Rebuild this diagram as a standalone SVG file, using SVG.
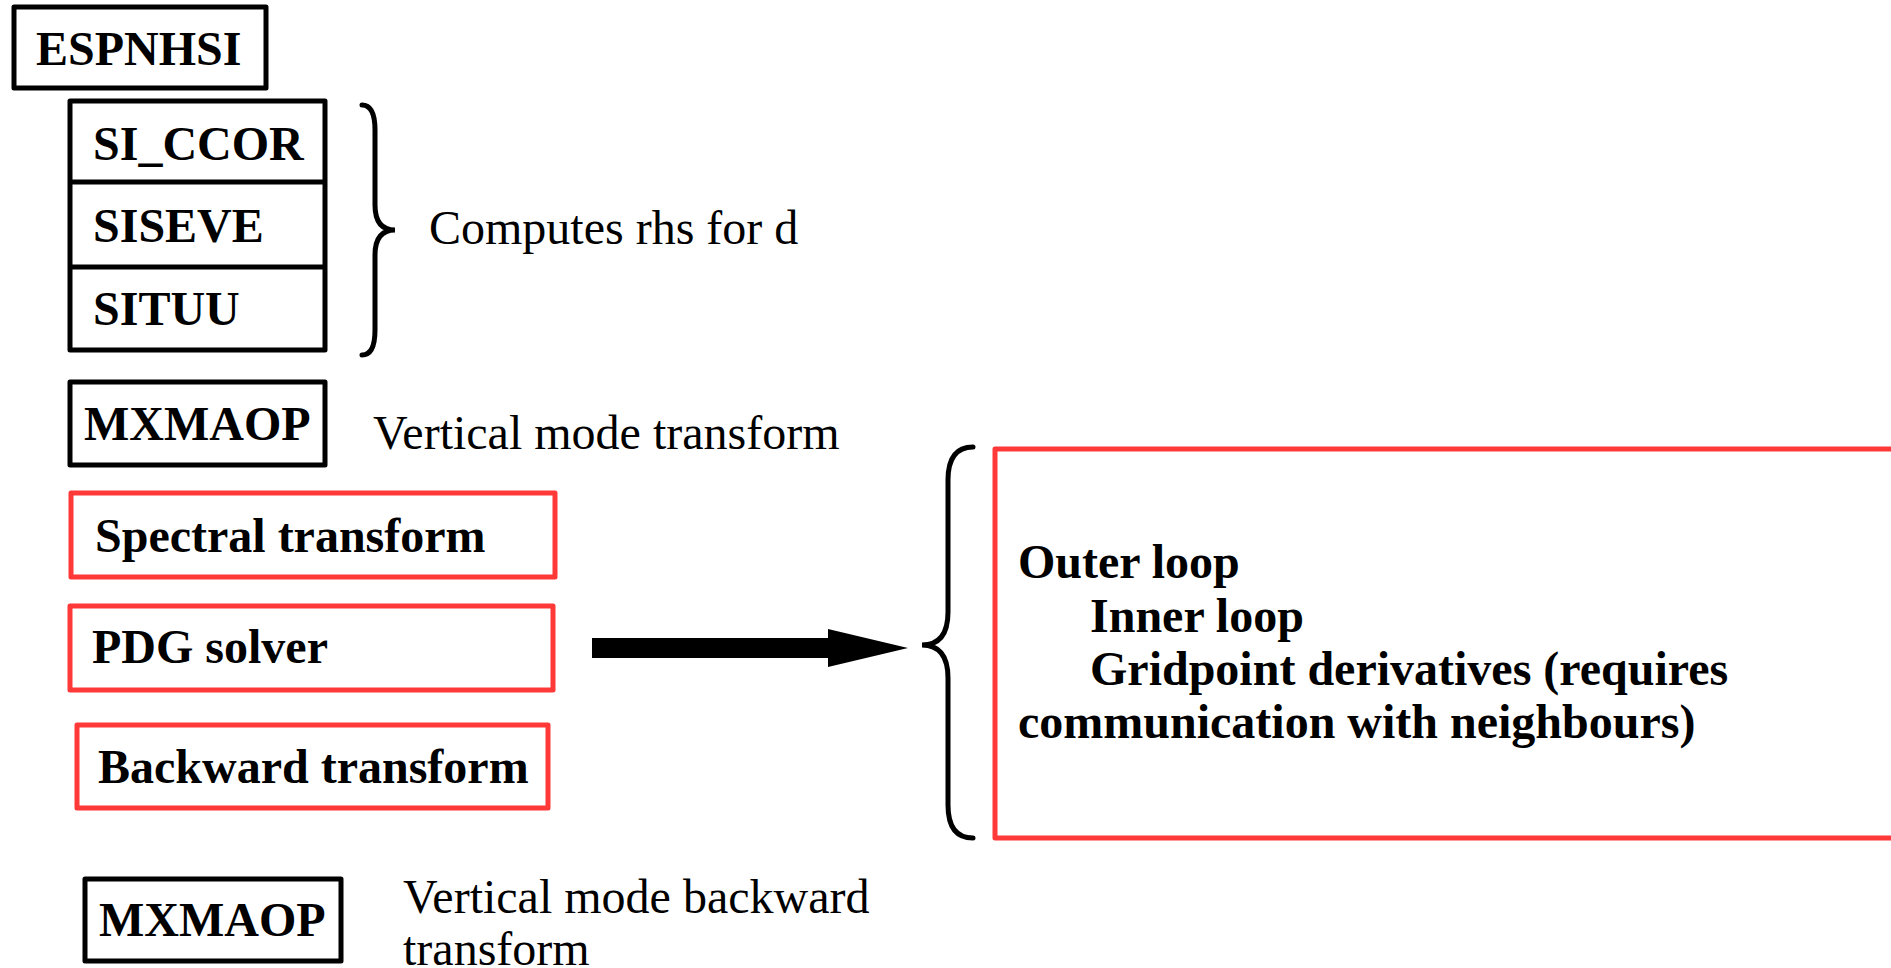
<svg xmlns="http://www.w3.org/2000/svg" width="1891" height="968" viewBox="0 0 1891 968">
<style>
.bx{fill:#ffffff;stroke:#000000;stroke-width:5;stroke-linejoin:round}
.rbx{fill:#ffffff;stroke:#ff3838;stroke-width:5;stroke-linejoin:round}
.b{font-family:"Liberation Serif","Times New Roman",serif;font-weight:bold;font-size:48px;fill:#000000}
.r{font-family:"Liberation Serif","Times New Roman",serif;font-size:48px;fill:#000000}
.br{fill:none;stroke:#000000;stroke-width:5;stroke-linecap:round}
</style>
<rect width="1891" height="968" fill="#ffffff"/>
<g id="espnhsi">
<rect class="bx" x="14" y="7" width="252" height="81"/>
<text class="b" x="36" y="65">ESPNHSI</text>
</g>
<g id="si-stack">
<rect class="bx" x="70" y="101" width="255" height="249"/>
<line x1="70" y1="182" x2="325" y2="182" stroke="#000" stroke-width="5"/>
<line x1="70" y1="267" x2="325" y2="267" stroke="#000" stroke-width="5"/>
<text class="b" x="93" y="160">SI_CCOR</text>
<text class="b" x="93" y="242">SISEVE</text>
<text class="b" x="93" y="325">SITUU</text>
</g>
<g id="rhs-brace">
<path class="br" d="M362,105 Q375,105 375,130 L375,205 Q375,230 395,230 Q375,230 375,255 L375,330 Q375,355 362,355"/>
<text class="r" x="429" y="244">Computes rhs for d</text>
</g>
<g id="mxmaop1">
<rect class="bx" x="70" y="382" width="255" height="83"/>
<text class="b" x="84" y="440">MXMAOP</text>
<text class="r" x="373" y="449">Vertical mode transform</text>
</g>
<g id="spectral">
<rect class="rbx" x="71" y="493" width="484" height="84"/>
<text class="b" x="95" y="552">Spectral transform</text>
</g>
<g id="pdg">
<rect class="rbx" x="70" y="606" width="483" height="84"/>
<text class="b" x="92" y="663">PDG solver</text>
</g>
<g id="backward">
<rect class="rbx" x="77" y="725" width="471" height="83"/>
<text class="b" x="98" y="783">Backward transform</text>
</g>
<g id="mxmaop2">
<rect class="bx" x="85" y="879" width="256" height="82"/>
<text class="b" x="99" y="936">MXMAOP</text>
<text class="r" x="403" y="913">Vertical mode backward</text>
<text class="r" x="403" y="965">transform</text>
</g>
<g id="loops">
<rect class="rbx" x="995" y="449" width="920" height="389"/>
<text class="b" x="1018" y="578">Outer loop</text>
<text class="b" x="1090" y="632">Inner loop</text>
<text class="b" x="1090" y="685">Gridpoint derivatives (requires</text>
<text class="b" x="1018" y="738">communication with neighbours)</text>
</g>
<g id="connectors">
<polygon points="592,638 828,638 828,629 908,648 828,667 828,658 592,658" fill="#000000"/>
<path class="br" d="M973,447 Q948,447 948,480 L948,612 Q948,645 922,645 Q948,645 948,678 L948,805 Q948,838 973,838"/>
</g>
</svg>
